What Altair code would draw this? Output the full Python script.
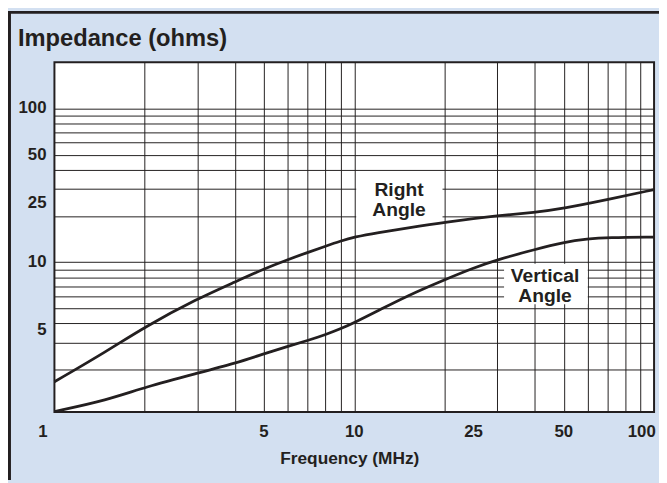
import altair as alt
import pandas as pd

# ---- data ----
freq_right = [1, 1.5, 2, 3, 4, 5, 6, 7, 8, 9, 10, 12, 15, 20, 30, 40, 50, 70, 100]
imp_right = [1.67, 2.65, 3.8, 5.8, 7.45, 9.07, 10.4, 11.6, 12.7, 13.75, 14.6, 15.6, 16.7, 18.2, 20.1, 21.1, 22.4, 25.6, 29.7]

freq_vert = [1, 1.5, 2, 3, 4, 5, 6, 7, 8, 9, 10, 12, 15, 20, 25, 30, 40, 50, 60, 70, 100]
imp_vert = [1.07, 1.27, 1.54, 1.9, 2.2, 2.54, 2.84, 3.1, 3.38, 3.69, 4.05, 4.84, 6.05, 7.7, 9.2, 10.4, 12.1, 13.5, 14.2, 14.5, 14.6]

x_grid = [2, 3, 4, 5, 6, 7, 8, 9, 10, 20, 30, 40, 50, 60, 70, 80, 90]
y_grid = [2, 3, 4, 5, 6, 7, 8, 9, 10, 20, 30, 40, 50, 60, 70, 80, 90, 100]

x_tick_pos = [0.916, 5, 10, 25, 50, 91]
x_tick_labels = ["1", "5", "10", "25", "50", "100"]
y_tick_pos = [100, 49.5, 24.3, 10, 3.6]
y_tick_labels = ["100", "50", "25", "10", "5"]

ann_text = ["Right\nAngle", "Vertical\nAngle"]
ann_x = [14.1, 43.3]
ann_y = [25.3, 6.98]
box_x1 = [10.15, 31.6]
box_x2 = [19.7, 60.1]
box_y1 = [18.3, 5.34]
box_y2 = [36.1, 9.8]

x_domain = [1, 100]
y_domain = [1.063, 200]

INK = "#231f20"
BG = "#d3e0f1"
FONT = "Liberation Sans"

# ---- tables ----
lines_df = pd.DataFrame(
    {"f": freq_right + freq_vert,
     "z": imp_right + imp_vert,
     "series": ["Right Angle"] * len(freq_right) + ["Vertical Angle"] * len(freq_vert)}
)
xt_df = pd.DataFrame({"pos": x_tick_pos, "label": x_tick_labels})
yt_df = pd.DataFrame({"pos": y_tick_pos, "label": y_tick_labels})
ann_df = pd.DataFrame({"text": ann_text, "ax": ann_x, "ay": ann_y,
                       "x1": box_x1, "x2": box_x2, "y1": box_y1, "y2": box_y2})

xs = alt.Scale(type="log", domain=x_domain, nice=False)
ys = alt.Scale(type="log", domain=y_domain, nice=False)
xa = alt.Axis(values=x_grid, grid=True, labels=False, ticks=False, domain=False,
              title=None, gridColor=INK, gridWidth=1, gridOpacity=1)
ya = alt.Axis(values=y_grid, grid=True, labels=False, ticks=False, domain=False,
              title=None, gridColor=INK, gridWidth=1, gridOpacity=1)

W, H = 607, 354

boxes = alt.Chart(ann_df).mark_rect(fill="white").encode(
    x=alt.X("x1:Q", scale=xs, axis=xa),
    x2="x2:Q",
    y=alt.Y("y1:Q", scale=ys, axis=ya),
    y2="y2:Q",
)

ann = alt.Chart(ann_df).mark_text(font=FONT, fontWeight="bold", fontSize=19.5, color=INK,
                                  lineBreak="\n", lineHeight=20, align="center",
                                  baseline="middle", dy=-10).encode(
    x=alt.X("ax:Q", scale=xs, axis=xa),
    y=alt.Y("ay:Q", scale=ys, axis=ya),
    text="text:N",
)

lines = alt.Chart(lines_df).mark_line(color=INK, strokeWidth=2.8, interpolate="basis").encode(
    x=alt.X("f:Q", scale=xs, axis=xa),
    y=alt.Y("z:Q", scale=ys, axis=ya),
    detail="series:N",
)

xticks = alt.Chart(xt_df).mark_text(font=FONT, fontWeight="bold", fontSize=17, color=INK,
                                    align="center", baseline="middle").encode(
    x=alt.X("pos:Q", scale=xs, axis=xa),
    y=alt.value(H + 20.5),
    text="label:N",
)

yticks = alt.Chart(yt_df).mark_text(font=FONT, fontWeight="bold", fontSize=17, color=INK,
                                    align="right", baseline="middle").encode(
    x=alt.value(-8),
    y=alt.Y("pos:Q", scale=ys, axis=ya),
    text="label:N",
)

title_df = pd.DataFrame({"t": ["Impedance (ohms)"]})
ytitle = alt.Chart(title_df).mark_text(font=FONT, fontWeight="bold", fontSize=24, color=INK,
                                       align="left", baseline="middle").encode(
    x=alt.value(-37), y=alt.value(-23.3), text="t:N")

xtitle_df = pd.DataFrame({"t": ["Frequency (MHz)"]})
xtitle = alt.Chart(xtitle_df).mark_text(font=FONT, fontWeight="bold", fontSize=17.5, color=INK,
                                        align="center", baseline="middle").encode(
    x=alt.value(299), y=alt.value(401.7), text="t:N")

top_border = alt.Chart(title_df).mark_rule(color=INK, strokeWidth=3).encode(
    x=alt.value(-47), x2=alt.value(W + 5), y=alt.value(-50.5))
left_border = alt.Chart(title_df).mark_rule(color=INK, strokeWidth=3).encode(
    x=alt.value(-45.5), y=alt.value(-52), y2=alt.value(H + 69))

chart = alt.layer(
    boxes, ann, lines, xticks, yticks, ytitle, xtitle, top_border, left_border
).properties(
    width=W, height=H,
    autosize=alt.AutoSizeParams(type="none"),
    padding={"left": 47, "top": 52, "right": 5, "bottom": 69},
    background=BG,
).configure_view(
    fill="white", stroke=INK, strokeWidth=2
)

chart.save("out.html", embed_options={"renderer": "svg", "actions": False})
